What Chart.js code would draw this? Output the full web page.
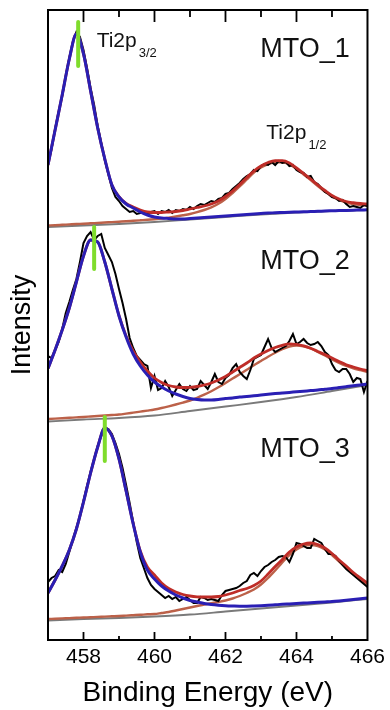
<!DOCTYPE html>
<html>
<head>
<meta charset="utf-8">
<title>Ti2p XPS - MTO</title>
<script src="https://cdn.jsdelivr.net/npm/chart.js@4.4.1/dist/chart.umd.min.js"></script>
<style>
  html, body { margin: 0; padding: 0; background: #fff; }
  canvas { display: block; }
</style>
</head>
<body>
<canvas id="myChart" width="390" height="710"></canvas>
<script>
// Energías de ligadura (eV)
const fitEnergy = [457.0, 457.2, 457.4, 457.6, 457.8, 458.0, 458.2, 458.4, 458.6, 458.8,
  459.0, 459.2, 459.4, 459.6, 459.8, 460.0, 460.2, 460.4, 460.6, 460.8,
  461.0, 461.2, 461.4, 461.6, 461.8, 462.0, 462.2, 462.4, 462.6, 462.8,
  463.0, 463.2, 463.4, 463.6, 463.8, 464.0, 464.2, 464.4, 464.6, 464.8,
  465.0, 465.2, 465.4, 465.6, 465.8, 466.0];
const dataEnergy = [457.0, 457.1, 457.2, 457.3, 457.4, 457.5, 457.6, 457.7, 457.8, 457.9,
  458.0, 458.1, 458.2, 458.3, 458.4, 458.5, 458.6, 458.7, 458.8, 458.9,
  459.0, 459.1, 459.2, 459.3, 459.4, 459.5, 459.6, 459.7, 459.8, 459.9,
  460.0, 460.1, 460.2, 460.3, 460.4, 460.5, 460.6, 460.7, 460.8, 460.9,
  461.0, 461.1, 461.2, 461.3, 461.4, 461.5, 461.6, 461.7, 461.8, 461.9,
  462.0, 462.1, 462.2, 462.3, 462.4, 462.5, 462.6, 462.7, 462.8, 462.9,
  463.0, 463.1, 463.2, 463.3, 463.4, 463.5, 463.6, 463.7, 463.8, 463.9,
  464.0, 464.1, 464.2, 464.3, 464.4, 464.5, 464.6, 464.7, 464.8, 464.9,
  465.0, 465.1, 465.2, 465.3, 465.4, 465.5, 465.6, 465.7, 465.8, 465.9, 466.0];
const bgEnergy = [457, 458, 459, 460, 461, 462, 463, 464, 465, 466];

// MTO_1 (intensidad con desplazamiento vertical)
const mto1Data = [476, 491, 511, 528, 544, 564, 582, 598, 608, 603,
  590, 572, 552, 535, 514, 497, 480, 466, 452, 443,
  439, 434, 431, 428, 429, 426, 427, 428, 426, 428,
  429, 426, 429, 428, 430, 427, 430, 429, 431, 430,
  433, 431, 434, 436, 435, 437, 439, 438, 441, 442,
  446, 447, 451, 454, 457, 461, 464, 466, 470, 469,
  474, 476, 475, 478, 475, 479, 477, 478, 474, 475,
  470, 468, 467, 463, 464, 458, 456, 452, 448, 446,
  443, 442, 439, 440, 436, 433, 434, 433, 432, 435, 434];
const mto1Peak32 = [475, 510, 545, 581, 606, 586, 549, 512, 481, 455,
  443, 436, 432, 428, 425, 423, 422, 421.5, 421, 421,
  421.5, 422, 422.5, 423, 423.5, 424, 424.5, 425, 425.5, 426,
  426.5, 427, 427.2, 427.5, 427.8, 428, 428.2, 428.5, 428.7, 429,
  429.2, 429.4, 429.6, 429.8, 430, 430.2];
const mto1Total = [475, 510, 545, 581, 606, 586, 549, 512, 481, 455,
  443.5, 436.5, 433, 430, 428, 427.5, 427.5, 428, 428.5, 429.5,
  431, 432.5, 434, 436, 439, 443.5, 449, 455.5, 462.5, 469,
  474, 477.5, 479.3, 479.3, 477, 472, 466.5, 461, 455, 449.5,
  444.5, 441, 438.5, 437.3, 436.5, 436];
const mto1Peak12 = [414.5, 414.8, 415.2, 415.6, 416, 416.3, 416.7, 417.1, 417.5, 417.9,
  418.3, 418.7, 419.2, 419.7, 420.2, 420.8, 421.5, 422.4, 423.5, 424.7,
  426, 427.8, 430, 432.7, 436.2, 441, 447, 453.5, 460.5, 467.5,
  472.5, 476, 477.7, 477.8, 475.7, 471, 465.5, 460, 454, 448.5,
  443.5, 440, 437.5, 436, 435, 434.5];
const mto1Fondo = [413, 414.5, 416, 418, 420.5, 423, 425.5, 427.5, 429, 430];

// MTO_2
const mto2Data = [284, 282, 290, 298, 311, 327, 338, 350, 361, 378,
  397, 404, 408, 400, 404, 406, 392, 385, 378, 366,
  351, 337, 321, 302, 292, 284, 280, 276, 274, 252,
  264, 250, 252, 259, 253, 244, 250, 256, 251, 249,
  254, 250, 251, 259, 255, 251, 258, 266, 258, 256,
  262, 265, 272, 276, 268, 264, 261, 270, 281, 283,
  285, 293, 301, 292, 288, 290, 292, 294, 299, 306,
  296, 298, 301, 297, 295, 296, 298, 294, 288, 285,
  276, 270, 268, 271, 271, 266, 258, 262, 261, 248, 259];
const mto2Peak32 = [271.5, 290, 310, 332, 358, 384, 400, 398, 378, 351,
  324, 303, 286, 274, 265, 258, 253, 249, 246, 243.5,
  241.5, 240.5, 240, 240, 240.5, 241.5, 242, 243, 243.5, 244.2,
  245, 245.7, 246.4, 247, 247.6, 248.2, 248.8, 249.4, 250, 250.8,
  251.5, 252.4, 253.3, 254.2, 255.1, 256];
const mto2Total = [271.5, 290, 310, 332, 358, 384, 400, 398, 378, 351,
  324.5, 304, 289, 278, 269, 262, 257.5, 254.5, 253, 252.5,
  252.7, 253.5, 255, 257, 260, 263.5, 268, 272.5, 277, 282,
  286, 289.5, 292.5, 294.7, 296.2, 295.7, 294.2, 291.8, 288.5, 285.5,
  282, 278.5, 275.3, 273, 271, 269.3];
const mto2Peak12 = [221, 221.4, 221.8, 222.2, 222.6, 223, 223.5, 224, 224.5, 225,
  225.5, 226.4, 227.4, 228.4, 229.4, 230.5, 232, 233.7, 235.5, 237.4,
  239.5, 242.2, 245.3, 248.8, 252.7, 257, 261.4, 265.8, 270.3, 274.8,
  279, 283.2, 287.2, 290.8, 293.5, 294.5, 293.7, 291.5, 288, 284.5,
  280.5, 277, 274, 271.7, 269.8, 268];
const mto2Fondo = [218.5, 220.5, 222, 224.5, 229, 233.5, 238, 243, 249, 255];

// MTO_3
const mto3Data = [58, 62, 64, 70, 68, 76, 88, 100, 112, 124,
  139, 154, 168, 181, 194, 204, 211, 211, 206, 197,
  186, 172, 155, 137, 118, 98, 82, 72, 62, 55,
  51, 48, 45, 42, 44, 41, 43, 39, 41, 43,
  40, 37, 37, 43, 42, 40, 41, 40, 39, 45,
  49, 50, 51, 52, 54, 57, 59, 65, 67, 64,
  69, 73, 75, 78, 80, 83, 84, 83, 78, 86,
  97, 96, 94, 92, 92, 101, 99, 97, 91, 86,
  86, 84, 79, 75, 71, 68, 65, 62, 59, 56, 53];
const mto3Peak32 = [47, 60, 74, 90, 111, 138, 167, 193, 212, 204,
  181, 149, 116, 88, 70, 61, 54, 49, 45, 42,
  39.5, 38, 36.5, 35.5, 34.8, 34.3, 34, 33.8, 33.8, 34,
  34.3, 34.7, 35.2, 35.7, 36.1, 36.5, 36.9, 37.3, 37.7, 38.1,
  38.5, 39.1, 39.8, 40.5, 41.2, 42];
const mto3Total = [47, 60, 74, 90, 111, 138, 167, 193, 212, 204,
  181, 149, 116.5, 89, 73, 65, 57, 51.5, 48, 45.5,
  44, 43.2, 43, 43, 43.5, 45, 47, 49.5, 51.5, 54.5,
  59, 66, 73.5, 80.5, 88, 93, 96, 97, 95.5, 92,
  86.5, 80, 74, 67.5, 62, 57];
const mto3Peak12 = [21, 21.3, 21.6, 21.9, 22.2, 22.5, 22.8, 23.1, 23.4, 23.7,
  24, 24.4, 24.8, 25.2, 25.7, 26, 27, 28, 29.5, 31,
  32.5, 34, 35.5, 36.7, 38, 39.5, 41.5, 44, 47, 50.5,
  55.5, 62, 69.5, 77.5, 85, 90.5, 94, 95, 94, 90.5,
  85, 78.5, 72.5, 66, 60.5, 55.5];
const mto3Fondo = [19.5, 21, 22, 23.5, 25.5, 28.5, 31.5, 34.5, 37.5, 41];

// Posición del pico Ti2p3/2 (marca verde)
const peakEnergy = [457.85, 458.30, 458.60];
const peakTop = [618, 413, 223];
const peakBottom = [574, 371, 179];

// Textos
const sampleNames = ['MTO_1', 'MTO_2', 'MTO_3'];
const sampleLevel = [583, 371, 183];
const peakNames = ['3/2', '1/2'];
const peakNameEnergy = [458.37, 463.15];
const peakNameLevel = [593, 501];

const muestras = [
  { data: mto1Data, p32: mto1Peak32, total: mto1Total, p12: mto1Peak12, fondo: mto1Fondo },
  { data: mto2Data, p32: mto2Peak32, total: mto2Total, p12: mto2Peak12, fondo: mto2Fondo },
  { data: mto3Data, p32: mto3Peak32, total: mto3Total, p12: mto3Peak12, fondo: mto3Fondo }
];

function puntos(xs, ys) {
  return xs.map((x, i) => ({ x: x, y: ys[i] }));
}

// Marco, ticks hacia dentro y etiquetas
const anotaciones = {
  id: 'anotaciones',
  afterDraw(chart) {
    const { ctx, chartArea: a, scales: { x, y } } = chart;
    ctx.save();
    ctx.strokeStyle = '#000';
    ctx.lineWidth = 2;
    ctx.strokeRect(a.left, a.top, a.right - a.left, a.bottom - a.top);

    ctx.lineWidth = 1.8;
    x.ticks.forEach(t => {
      const px = x.getPixelForValue(t.value);
      if (px <= a.left + 1 || px >= a.right - 1) return;
      const major = t.value % 2 === 0;
      ctx.beginPath();
      ctx.moveTo(px, a.top);
      ctx.lineTo(px, a.top + (major ? 12 : 7));
      ctx.moveTo(px, a.bottom);
      ctx.lineTo(px, a.bottom - (major ? 8 : 4));
      ctx.stroke();
    });

    ctx.fillStyle = '#111';
    ctx.textBaseline = 'alphabetic';
    ctx.font = '27px "Liberation Sans", Arial, sans-serif';
    ctx.textAlign = 'right';
    sampleNames.forEach((name, i) => {
      ctx.fillText(name, x.getPixelForValue(465.5), y.getPixelForValue(sampleLevel[i]));
    });

    ctx.textAlign = 'left';
    peakNames.forEach((sub, i) => {
      const px = x.getPixelForValue(peakNameEnergy[i]);
      const py = y.getPixelForValue(peakNameLevel[i]);
      ctx.font = '21px "Liberation Sans", Arial, sans-serif';
      ctx.fillText('Ti2p', px, py);
      const w = ctx.measureText('Ti2p').width;
      ctx.font = '13px "Liberation Sans", Arial, sans-serif';
      ctx.fillText(sub, px + w + 2, py + 10);
    });
    ctx.restore();
  }
};

function crearGrafico() {
  Chart.defaults.font.family = '"Liberation Sans", Arial, sans-serif';
  Chart.defaults.color = '#000';

  const marcadores = [];
  peakEnergy.forEach((e, i) => {
    marcadores.push({ x: e, y: peakTop[i] }, { x: e, y: peakBottom[i] }, { x: e, y: null });
  });

  // el primer dataset se dibuja encima
  const datasets = [{
    label: 'Ti2p3/2',
    data: marcadores,
    borderColor: '#7fdc2c',
    borderWidth: 4,
    borderCapStyle: 'round',
    spanGaps: false
  }];
  muestras.forEach(m => datasets.push({
    label: 'Ti2p3/2 ajuste', data: puntos(fitEnergy, m.p32),
    borderColor: '#2a1fb4', borderWidth: 3, cubicInterpolationMode: 'monotone'
  }));
  muestras.forEach(m => datasets.push({
    label: 'Envolvente', data: puntos(fitEnergy, m.total),
    borderColor: '#bf2d28', borderWidth: 2.8, cubicInterpolationMode: 'monotone'
  }));
  muestras.forEach(m => datasets.push({
    label: 'Datos', data: puntos(dataEnergy, m.data),
    borderColor: '#000', borderWidth: 2, tension: 0
  }));
  muestras.forEach(m => datasets.push({
    label: 'Ti2p1/2 ajuste', data: puntos(fitEnergy, m.p12),
    borderColor: '#bc6149', borderWidth: 2.4, cubicInterpolationMode: 'monotone'
  }));
  muestras.forEach(m => datasets.push({
    label: 'Fondo', data: puntos(bgEnergy, m.fondo),
    borderColor: '#7a7a7a', borderWidth: 1.8, cubicInterpolationMode: 'monotone'
  }));

  const ctx = document.getElementById('myChart').getContext('2d');
  new Chart(ctx, {
    type: 'line',
    data: { datasets: datasets },
    options: {
      responsive: false,
      animation: false,
      events: [],
      layout: { padding: { top: 10, right: 20, bottom: 0, left: 0 } },
      elements: { point: { radius: 0 }, line: { fill: false } },
      plugins: { legend: { display: false }, tooltip: { enabled: false } },
      scales: {
        x: {
          type: 'linear',
          min: 457,
          max: 466,
          afterFit: s => { s.height = 70; },
          grid: { display: false, drawTicks: false },
          border: { display: false },
          ticks: {
            stepSize: 1,
            autoSkip: false,
            maxRotation: 0,
            padding: 5,
            color: '#000',
            font: { size: 21 },
            callback: v => (v % 2 === 0 ? String(v) : '')
          },
          title: { display: true, text: 'Binding Energy (eV)', color: '#000', font: { size: 28 }, padding: 0 }
        },
        y: {
          min: 0,
          max: 630,
          afterFit: s => { s.width = 48; },
          grid: { display: false, drawTicks: false },
          border: { display: false },
          ticks: { display: false },
          title: { display: true, text: 'Intensity', color: '#000', font: { size: 27 }, padding: { top: 6, bottom: 0 } }
        }
      }
    },
    plugins: [anotaciones]
  });
}

crearGrafico();
</script>
</body>
</html>
